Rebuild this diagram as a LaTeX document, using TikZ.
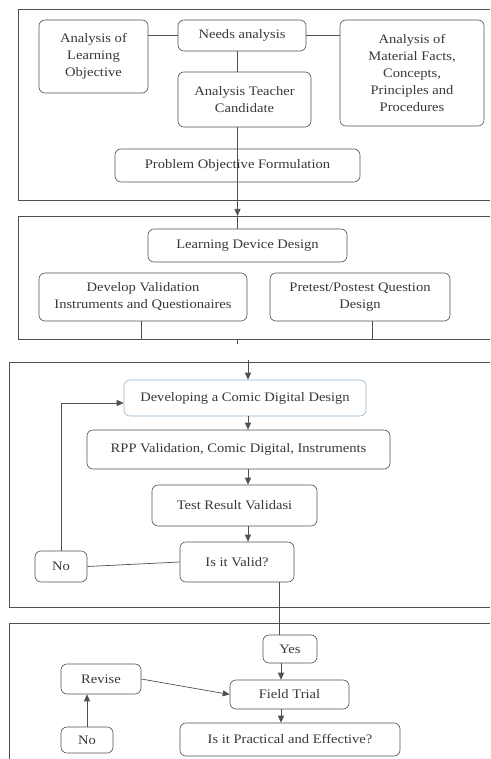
\documentclass[tikz,border=0pt]{standalone}
\usepackage{fontspec}
\setmainfont{Liberation Serif}[FakeStretch=1.12]
\usetikzlibrary{arrows.meta}
\definecolor{lineg}{HTML}{505050}
\definecolor{textg}{HTML}{383838}
\definecolor{blueedge}{HTML}{8FB0C8}
\tikzset{
  pstep/.style={draw=lineg, line width=0.6pt, rounded corners=6pt, text=textg,
    font=\fontsize{13}{17}\selectfont, align=center, inner sep=0pt},
  frame/.style={draw=lineg, line width=0.6pt},
  link/.style={draw=lineg, line width=0.7pt},
  flow/.style={link, -{Triangle[length=7pt,width=6pt]}},
}
% box from its corners: [extra style] name, x1, y1, x2, y2, text
\newcommand{\pbox}[7][]{%
  \node[pstep, minimum width={(#5-#3)*1pt}, minimum height={(#6-#4)*1pt}, #1]
    (#2) at ({(#3+#5)/2},{(#4+#6)/2}) {#7};
}

\begin{document}
\begin{tikzpicture}[x=1pt, y=-1pt]
  \useasboundingbox (0,0) rectangle (490,759);
  \clip (0,0) rectangle (490,759);
  % the four stage frames, open to the right
  \draw[frame] (18,9) rectangle (500,200);
  \draw[frame] (18,216) rectangle (500,339);
  \draw[frame] (9,362) rectangle (500,607);
  \draw[frame] (9,623) rectangle (500,770);
  \coordinate (f2t) at (0,216);
  \coordinate (f2b) at (0,339);
  \coordinate (f3t) at (0,360);
  \coordinate (ax) at (248,0);
  \coordinate (vy) at (279,0);
  \coordinate (fx) at (281,0);

  % stage 1
  \pbox{needs}{178}{20}{306}{51}{Needs analysis}
  \pbox{objv}{39}{20}{148}{93}{Analysis of\\Learning\\Objective}
  \pbox{matl}{340}{20}{484}{126}{Analysis of\\Material Facts,\\Concepts,\\Principles and\\Procedures}
  \pbox{tchr}{178}{72}{311}{127}{Analysis Teacher\\Candidate}
  \pbox{pof}{115}{149}{360}{182}{Problem Objective Formulation}
  \draw[link] (objv.east |- needs.west) -- (needs.west);
  \draw[link] (needs.east) -- (needs.east -| matl.west);
  \draw[link] (needs.south -| pof.south) -- (tchr.north -| pof.south);
  \draw[link] (tchr.south -| pof.south) -- (pof.south);

  % stage 2
  \pbox{ldd}{148}{229}{347}{262}{Learning Device Design}
  \pbox{dvi}{39}{273}{247}{321}{Develop Validation\\Instruments and Questionaires}
  \pbox{ppq}{270}{273}{450}{321}{Pretest/Postest Question\\Design}
  \draw[flow] (pof.south) -- (pof.south |- f2t);
  \draw[link] (pof.south |- f2t) -- (pof.south |- ldd.north);
  \draw[link] ([xshift=-2pt]dvi.south) -- ([xshift=-2pt]dvi.south |- f2b);
  \draw[link] ([xshift=12pt]ppq.south) -- ([xshift=12pt]ppq.south |- f2b);
  \draw[link] (pof.south |- f2b) -- ++(0,5);

  % stage 3
  \pbox[draw=blueedge]{dev}{124}{380}{366}{416}{Developing a Comic Digital Design}
  \pbox{rpp}{87}{430}{390}{469}{RPP Validation, Comic Digital, Instruments}
  \pbox{trv}{152}{485}{317}{526}{Test Result Validasi}
  \pbox{valid}{180}{542}{294}{582}{Is it Valid?}
  \pbox{noa}{35}{551}{87}{582}{No}
  \draw[flow] (ax |- f3t) -- (ax |- dev.north);
  \draw[flow] (ax |- dev.south) -- (ax |- rpp.north);
  \draw[flow] (ax |- rpp.south) -- (ax |- trv.north);
  \draw[flow] (ax |- trv.south) -- (ax |- valid.north);
  \draw[link] (valid.west) -- (noa.east);
  \draw[flow] (noa.north) |- ([yshift=-5pt]dev.west);

  % stage 4
  \pbox{yes}{263}{635}{317}{663}{Yes}
  \pbox{field}{230}{680}{349}{709}{Field Trial}
  \pbox{revise}{61}{664}{141}{694}{Revise}
  \pbox{nob}{61}{727}{113}{753}{No}
  \pbox{pe}{180}{723}{400}{756}{Is it Practical and Effective?}
  \draw[link] (vy |- valid.south) -- (vy |- yes.north);
  \draw[flow] (fx |- yes.south) -- (fx |- field.north);
  \draw[flow] (fx |- field.south) -- (fx |- pe.north);
  \draw[flow] (revise.east) -- (field.west);
  \draw[flow] (nob.north) -- (nob.north |- revise.south);
\end{tikzpicture}
\end{document}
